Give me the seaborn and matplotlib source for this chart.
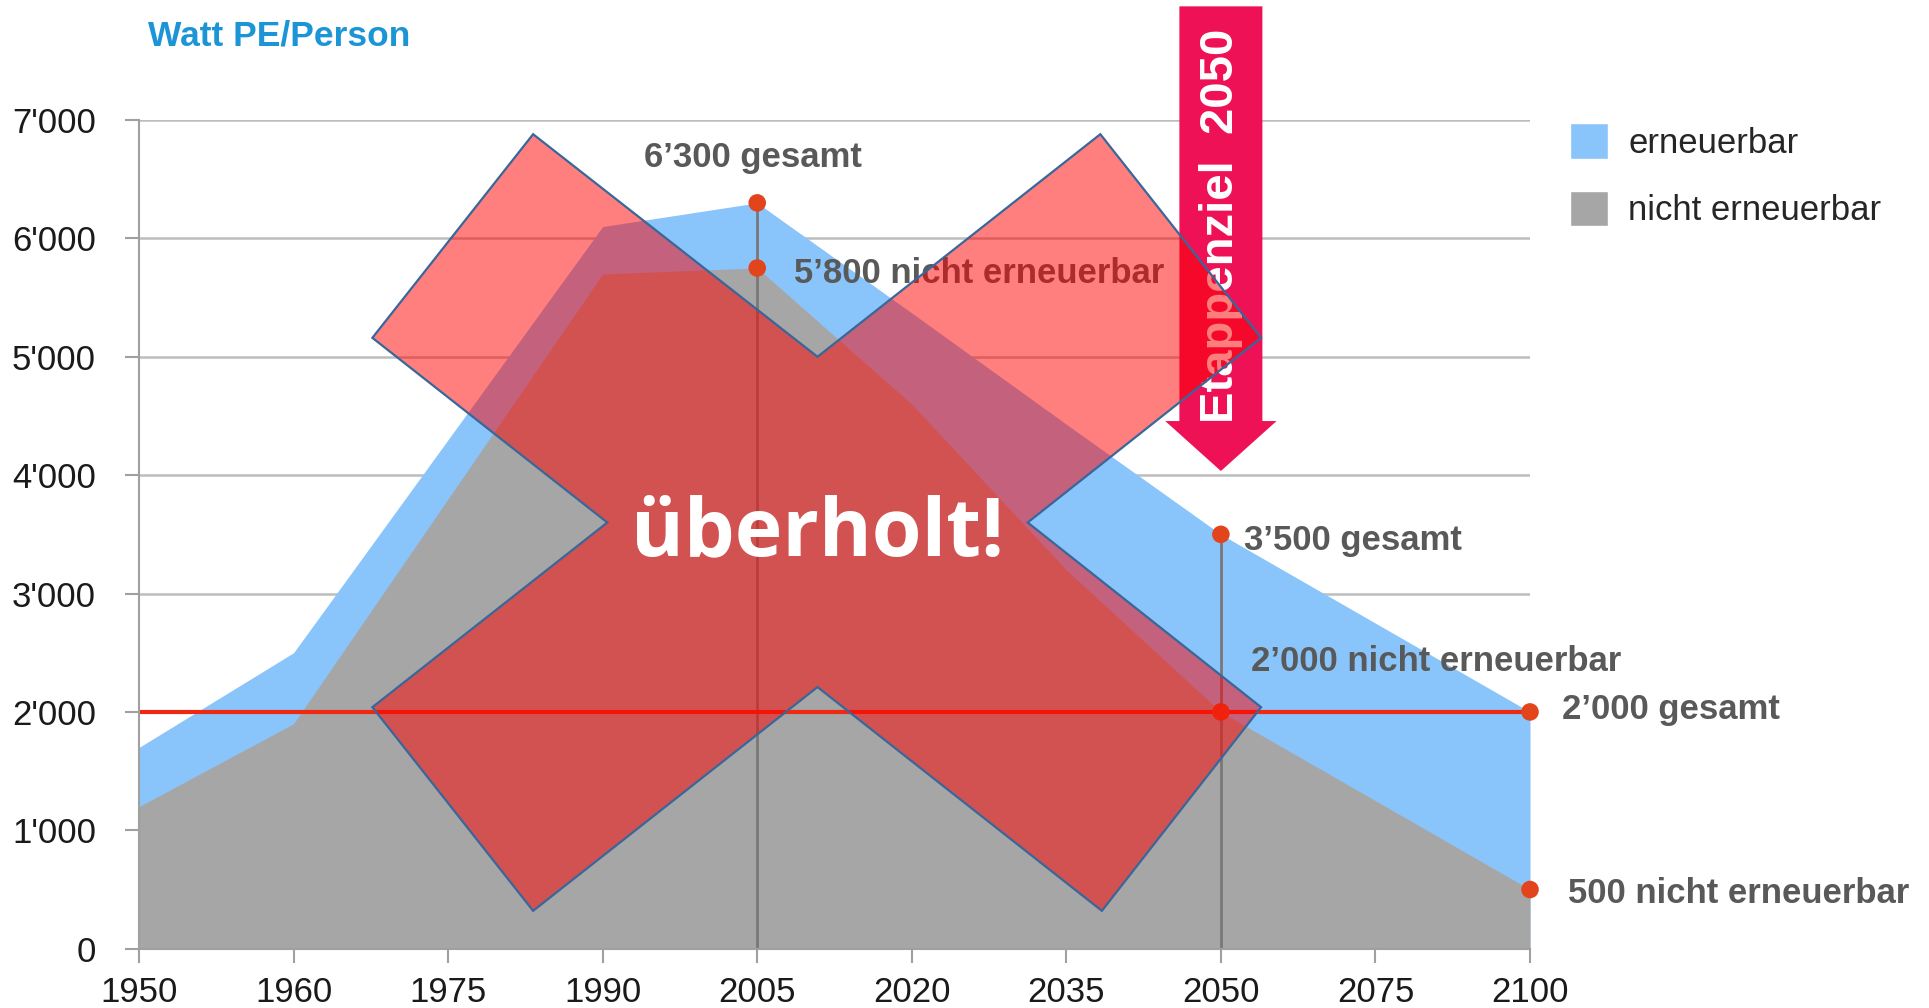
import matplotlib
matplotlib.use("Agg")
import matplotlib.pyplot as plt
from matplotlib.patches import Polygon, Patch
import pandas as pd
import seaborn as sns

# Werte (Watt Primärenergie pro Person)
jahre = ["1950", "1960", "1975", "1990", "2005", "2020", "2035", "2050", "2075", "2100"]
gesamt = [1700, 2500, 4300, 6100, 6300, 5370, 4430, 3500, 2750, 2000]
nicht_erneuerbar = [1200, 1900, 3800, 5700, 5750, 4600, 3200, 2000, 1250, 500]
y_ticks = [0, 1000, 2000, 3000, 4000, 5000, 6000, 7000]
y_labels = ["0", "1'000", "2'000", "3'000", "4'000", "5'000", "6'000", "7'000"]
ziel_wert = 2000

# markierte Punkte mit Beschriftung
punkt_jahre = ["2005", "2005", "2050", "2050", "2100", "2100"]
punkt_werte = [6300, 5750, 3500, 2000, 2000, 500]
punkt_texte = ["6’300 gesamt", "5’800 nicht erneuerbar", "3’500 gesamt",
               "2’000 nicht erneuerbar", "2’000 gesamt", "500 nicht erneuerbar"]
# Verschiebung der Texte in Pixeln, Ausrichtung
text_offsets = [(-4, 36), (37, -15), (23, -16), (30, 41), (32, -7), (38, -13)]
text_ha = ["center", "left", "left", "left", "left", "left"]

# rotes Kreuz (Jahr-Index, Watt)
kreuz = [(2.55, 6880), (4.39, 5000), (6.22, 6880), (7.26, 5160), (5.75, 3600),
         (7.26, 2040), (6.23, 320), (4.39, 2210), (2.55, 320), (1.51, 2040),
         (3.03, 3600), (1.51, 5160)]

BLAU = "#89C4FA"
GRAU = "#A6A6A6"
PUNKT = "#E2441C"
PINK = "#EE1156"

sns.set_theme(style="white")
plt.rcParams["font.family"] = ["Liberation Sans", "DejaVu Sans"]

df = pd.DataFrame({"jahr": jahre, "gesamt": gesamt, "nicht": nicht_erneuerbar})
df["x"] = range(len(df))
pos = {j: i for i, j in enumerate(jahre)}

fig = plt.figure(figsize=(19.29, 10.08), dpi=100)
ax = fig.add_axes([139 / 1929, 59.3 / 1008, 1391 / 1929, 828.7 / 1008])

ax.fill_between(df["x"], 0, df["gesamt"], color=BLAU, lw=0, zorder=1)
ax.fill_between(df["x"], 0, df["nicht"], color=GRAU, lw=0, zorder=1.1)

# senkrechte Linien 2005 und 2050
ax.vlines([pos["2005"], pos["2050"]], 0, [6300, 3500], color="#787878", lw=2, zorder=2)
ax.axhline(ziel_wert, color="#EE2A12", lw=3, zorder=2.5)

pts = pd.DataFrame({"x": [pos[j] for j in punkt_jahre], "y": punkt_werte})
sns.scatterplot(data=pts, x="x", y="y", ax=ax, color=PUNKT, s=160, edgecolor="none",
                zorder=3, clip_on=False)

for (xj, yv, t, off, ha) in zip(punkt_jahre, punkt_werte, punkt_texte, text_offsets, text_ha):
    ax.annotate(t, xy=(pos[xj], yv), xytext=off, textcoords="offset pixels",
                ha=ha, va="baseline", fontsize=25, fontweight="bold", color="#595959",
                zorder=4, annotation_clip=False)

ax.set_xlim(0, len(jahre) - 1)
ax.set_ylim(0, 7000)
ax.set_xticks(df["x"])
ax.set_xticklabels(jahre)
ax.set_yticks(y_ticks)
ax.set_yticklabels(y_labels)
ax.tick_params(axis="both", labelsize=25, colors="#A0A0A0", labelcolor="#1A1A1A",
               length=10, width=1.5, direction="out", bottom=True, left=True)
ax.tick_params(axis="y", pad=21)
ax.tick_params(axis="x", pad=10)
ax.set_xlabel("")
ax.set_ylabel("")
ax.yaxis.grid(True, color="#BDBDBD", lw=1.8)
ax.set_axisbelow(True)
for s in ["top", "right"]:
    ax.spines[s].set_visible(False)
for s in ["left", "bottom"]:
    ax.spines[s].set_color("#A0A0A0")
    ax.spines[s].set_linewidth(1.5)

# Pfeil Etappenziel 2050
ax.arrow(pos["2050"], 7960, 0, 4035 - 7960, width=0.537, head_width=0.72,
         head_length=422, length_includes_head=True, color=PINK, lw=0,
         clip_on=False, zorder=5)
ax.text(pos["2050"], 6110, "Etappenziel  2050", rotation=90, ha="center", va="center",
        fontsize=34, fontweight="bold", color="white", zorder=5.1)

# rotes Kreuz
ax.add_patch(Polygon(kreuz, closed=True, facecolor=(1, 0, 0, 0.5),
                     edgecolor="#38679A", lw=1.6, zorder=6, clip_on=False))
ax.text(4.39, 3320, "überholt!", ha="center", va="baseline", fontsize=58,
        fontweight="bold", color="white", family=["Open Sans", "DejaVu Sans"], zorder=7)

fig.text(148 / 1929, 1 - 45 / 1008, "Watt PE/Person", fontsize=25.5, fontweight="bold",
         color="#1B95D5", ha="left", va="baseline")

fig.legend(handles=[Patch(facecolor=BLAU, label="erneuerbar"),
                    Patch(facecolor=GRAU, label="nicht erneuerbar")],
           loc="upper left", bbox_to_anchor=(1570 / 1929, 1 - 123 / 1008),
           frameon=False, fontsize=25, handlelength=1.1, handleheight=1.2,
           handletextpad=0.58, labelspacing=0.9, borderpad=0, borderaxespad=0)

fig.savefig("out.png", dpi=100)
